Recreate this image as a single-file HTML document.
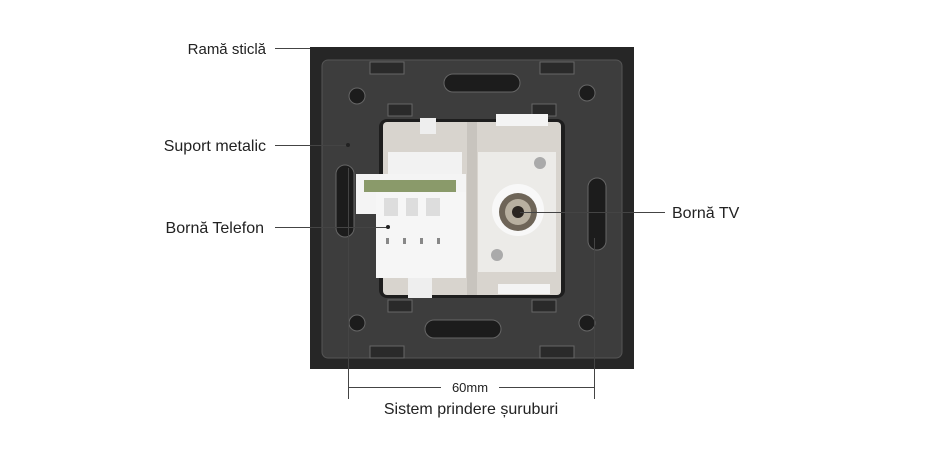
<!DOCTYPE html>
<html><head><style>
html,body{margin:0;padding:0;background:#fff;}
svg{display:block}
text{font-family:"Liberation Sans",sans-serif;font-size:16px;fill:#222;}
</style></head><body>
<svg width="930" height="462" viewBox="0 0 930 462">
<rect x="310" y="47" width="324" height="322" fill="#262626"/>
<rect x="322" y="60" width="300" height="298" rx="6" fill="#3d3d3d" stroke="#555" stroke-width="1"/>
<g fill="#2a2a2a" stroke="#666" stroke-width="1">
<rect x="370" y="62" width="34" height="12"/><rect x="540" y="62" width="34" height="12"/>
<rect x="370" y="346" width="34" height="12"/><rect x="540" y="346" width="34" height="12"/>
<rect x="388" y="104" width="24" height="12"/><rect x="532" y="104" width="24" height="12"/>
<rect x="388" y="300" width="24" height="12"/><rect x="532" y="300" width="24" height="12"/>
</g>
<g fill="#1c1c1c" stroke="#666" stroke-width="1">
<circle cx="357" cy="96" r="8"/><circle cx="587" cy="93" r="8"/>
<circle cx="357" cy="323" r="8"/><circle cx="587" cy="323" r="8"/>
<rect x="444" y="74" width="76" height="18" rx="9"/>
<rect x="425" y="320" width="76" height="18" rx="9"/>
<rect x="336" y="165" width="18" height="72" rx="9"/>
<rect x="588" y="178" width="18" height="72" rx="9"/>
</g>
<rect x="379" y="119" width="186" height="179" rx="8" fill="#1e1e1e"/>
<rect x="383" y="122" width="178" height="173" rx="4" fill="#d8d4ce"/>
<rect x="467" y="122" width="10" height="173" fill="#c8c4be"/>
<!-- telephone module -->
<rect x="420" y="118" width="16" height="16" fill="#eee"/>
<rect x="388" y="152" width="74" height="26" fill="#f2f2f2"/>
<rect x="356" y="174" width="110" height="40" fill="#f4f4f4"/>
<rect x="364" y="180" width="92" height="12" fill="#8a9a6a"/>
<rect x="376" y="192" width="90" height="86" fill="#f6f6f6"/>
<g fill="#ddd"><rect x="384" y="198" width="14" height="18"/><rect x="406" y="198" width="12" height="18"/><rect x="426" y="198" width="14" height="18"/></g>
<g fill="#888"><rect x="386" y="238" width="3" height="6"/><rect x="403" y="238" width="3" height="6"/><rect x="420" y="238" width="3" height="6"/><rect x="437" y="238" width="3" height="6"/></g>
<rect x="408" y="278" width="24" height="20" fill="#eee"/>
<!-- TV module -->
<rect x="496" y="114" width="52" height="12" fill="#f4f4f4"/>
<rect x="478" y="152" width="78" height="120" fill="#ecebe8"/>
<rect x="498" y="284" width="52" height="10" fill="#f4f4f4"/>
<circle cx="540" cy="163" r="6" fill="#aaa"/><circle cx="497" cy="255" r="6" fill="#aaa"/>
<circle cx="518" cy="210" r="26" fill="#f8f8f8"/>
<circle cx="518" cy="212" r="19" fill="#6e6558"/>
<circle cx="518" cy="212" r="13" fill="#b8b0a0"/>
<circle cx="518" cy="212" r="6" fill="#2a2520"/>
<g stroke="#444" stroke-width="1" fill="none">
<line x1="275" y1="48.5" x2="310" y2="48.5"/>
<line x1="275" y1="145.5" x2="348" y2="145.5"/>
<line x1="275" y1="227.5" x2="388" y2="227.5"/>
<line x1="520" y1="212.5" x2="665" y2="212.5"/>
<line x1="348.5" y1="168" x2="348.5" y2="399"/>
<line x1="594.5" y1="238" x2="594.5" y2="399"/>
<line x1="348" y1="387.5" x2="441" y2="387.5"/>
<line x1="499" y1="387.5" x2="594" y2="387.5"/>
</g>
<circle cx="348" cy="145" r="2" fill="#222"/><circle cx="388" cy="227" r="2" fill="#222"/>
<text x="266" y="54" text-anchor="end" style="font-size:15px">Ramă sticlă</text>
<text x="266" y="151" text-anchor="end">Suport metalic</text>
<text x="264" y="233" text-anchor="end">Bornă Telefon</text>
<text x="672" y="218">Bornă TV</text>
<text x="470" y="392" text-anchor="middle" style="font-size:13px">60mm</text>
<text x="471" y="414" text-anchor="middle">Sistem prindere șuruburi</text>
</svg>
</body></html>
